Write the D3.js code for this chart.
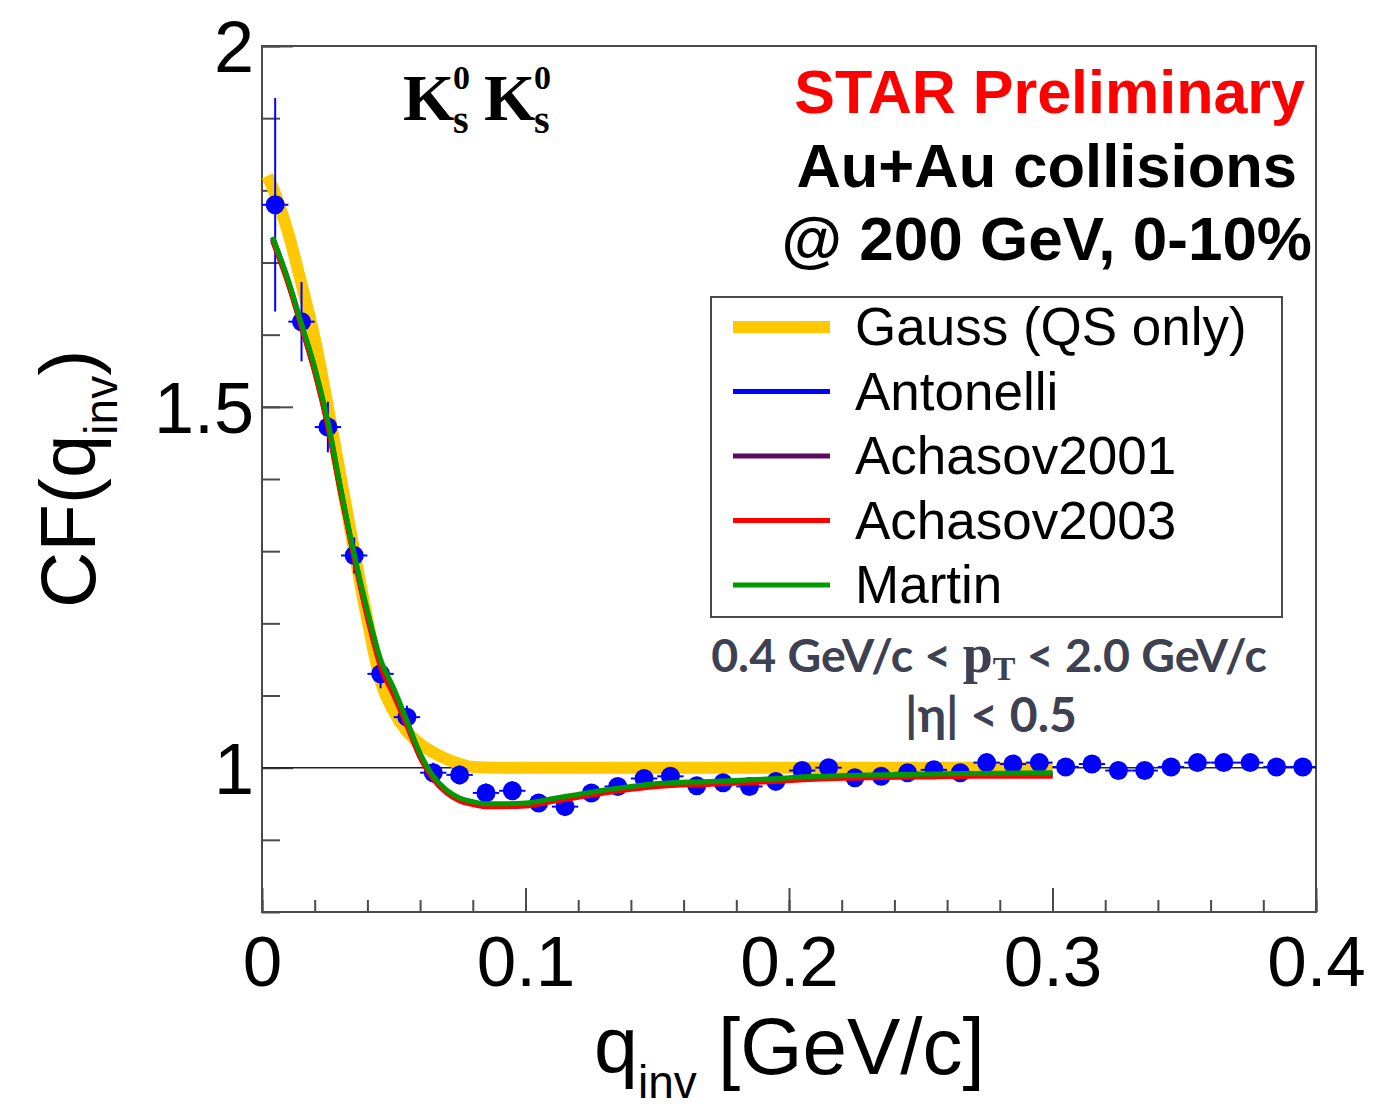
<!DOCTYPE html>
<html>
<head>
<meta charset="utf-8">
<script src="https://cdn.jsdelivr.net/npm/d3@7"></script>
<style>
  html, body { margin: 0; padding: 0; background: #fff; }
  svg { display: block; font-family: "Liberation Sans", Arial, Helvetica, sans-serif; }
</style>
</head>
<body>
<svg id="chart" width="1379" height="1112"></svg>
<script>
// ---------------- data ----------------
const qBins = [0.005,0.015,0.025,0.035,0.045,0.055,0.065,0.075,0.085,0.095,
               0.105,0.115,0.125,0.135,0.145,0.155,0.165,0.175,0.185,0.195,
               0.205,0.215,0.225,0.235,0.245,0.255,0.265,0.275,0.285,0.295,
               0.305,0.315,0.325,0.335,0.345,0.355,0.365,0.375,0.385,0.395];
const cfData = [1.780,1.618,1.472,1.294,1.130,1.070,0.993,0.990,0.965,0.968,
                0.951,0.946,0.965,0.974,0.985,0.988,0.975,0.979,0.974,0.981,
                0.996,1.000,0.986,0.988,0.993,0.997,0.993,1.007,1.005,1.007,
                1.001,1.005,0.996,0.996,1.001,1.007,1.007,1.007,1.001,1.001];
const cfErr  = [0.148,0.055,0.035,0.025,0.020,0.016,0.014,0.013,0.013,0.013,
                0.012,0.012,0.012,0.012,0.012,0.012,0.012,0.012,0.012,0.012,
                0.012,0.012,0.012,0.012,0.012,0.012,0.012,0.012,0.012,0.012,
                0.012,0.012,0.012,0.012,0.012,0.012,0.012,0.012,0.012,0.012];
const qBinHalf = 0.005;

const qGauss  = [0.002,0.005,0.010,0.015,0.020,0.025,0.030,0.035,0.040,0.045,0.050,0.055,0.060,0.065,0.070,0.075,0.080,0.090,0.100,0.150,0.200,0.250,0.300];
const cfGauss = [1.820,1.795,1.740,1.670,1.595,1.500,1.400,1.300,1.205,1.120,1.078,1.050,1.033,1.021,1.012,1.005,1.001,1.000,1.000,1.000,1.000,1.000,1.000];

const qFit = [0.004,0.010,0.015,0.020,0.025,0.030,0.035,0.040,0.045,0.050,0.055,0.060,0.065,0.070,0.075,0.080,0.085,0.090,0.100,0.110,0.120,0.130,0.140,0.150,0.170,0.190,0.210,0.230,0.250,0.270,0.300];
const cfAntonelli   = [1.735,1.674,1.614,1.553,1.478,1.383,1.294,1.214,1.147,1.108,1.063,1.018,0.987,0.967,0.956,0.951,0.948,0.948,0.949,0.955,0.961,0.967,0.972,0.976,0.979,0.982,0.986,0.988,0.989,0.990,0.991];
const cfAchasov2001 = [1.732,1.671,1.611,1.549,1.474,1.379,1.291,1.210,1.142,1.103,1.060,1.016,0.985,0.966,0.955,0.950,0.947,0.947,0.948,0.954,0.960,0.966,0.971,0.975,0.978,0.981,0.985,0.987,0.988,0.989,0.989];
const cfAchasov2003 = [1.730,1.670,1.610,1.548,1.472,1.378,1.290,1.208,1.140,1.100,1.058,1.014,0.984,0.965,0.954,0.949,0.946,0.946,0.947,0.953,0.959,0.965,0.970,0.974,0.977,0.980,0.984,0.986,0.987,0.988,0.988];
const cfMartin      = [1.735,1.675,1.615,1.555,1.480,1.385,1.296,1.218,1.150,1.110,1.065,1.020,0.988,0.969,0.958,0.953,0.950,0.950,0.951,0.957,0.963,0.969,0.974,0.978,0.981,0.984,0.988,0.990,0.991,0.992,0.993];

const legendLabels = ["Gauss (QS only)","Antonelli","Achasov2001","Achasov2003","Martin"];
const xTickLabels = ["0","0.1","0.2","0.3","0.4"];
const yTickLabels = ["1","1.5","2"];

// ---------------- setup ----------------
const svg = d3.select("#chart");
const L = 262, R = 1316, T = 46, B = 912;
const x = d3.scaleLinear().domain([0, 0.4]).range([L, R]);
const y = d3.scaleLinear().domain([0.8, 2.0]).range([B, T]);
const sans = "'Liberation Sans', Arial, sans-serif";
const serif = "'Liberation Serif', 'DejaVu Serif', serif";
const humanist = "Lato, 'Open Sans', sans-serif";

const colors = {
  gauss: "#ffc800", antonelli: "#0000ff", a2001: "#5c0a5c",
  a2003: "#ff0000", martin: "#009a00"
};

// frame
svg.append("rect").attr("x", L).attr("y", T).attr("width", R - L).attr("height", B - T)
  .attr("fill", "none").attr("stroke", "#4a4a4a").attr("stroke-width", 2);

// x ticks (inward)
const xMinor = d3.range(0, 21).map(i => i * 0.02);
svg.append("g").attr("transform", `translate(0,${B})`)
  .call(d3.axisBottom(x).tickValues(xMinor).tickSize(-12).tickFormat(""))
  .call(g => g.select(".domain").remove())
  .call(g => g.selectAll("line").attr("stroke", "#4a4a4a").attr("stroke-width", 2));
const gx = svg.append("g").attr("transform", `translate(0,${B})`)
  .call(d3.axisBottom(x).tickValues([0, 0.1, 0.2, 0.3, 0.4]).tickSize(-24)
    .tickPadding(0).tickFormat((d, i) => xTickLabels[i]));
gx.select(".domain").remove();
gx.selectAll("line").attr("stroke", "#4a4a4a").attr("stroke-width", 2);
gx.selectAll("text").attr("font-size", 71).attr("fill", "#000")
  .attr("font-family", sans).attr("y", 74).attr("dy", 0);

// y ticks
const yMinor = d3.range(0, 13).map(i => 0.8 + i * 0.1);
svg.append("g").attr("transform", `translate(${L},0)`)
  .call(d3.axisLeft(y).tickValues(yMinor).tickSize(-18).tickFormat(""))
  .call(g => g.select(".domain").remove())
  .call(g => g.selectAll("line").attr("stroke", "#4a4a4a").attr("stroke-width", 2));
const gy = svg.append("g").attr("transform", `translate(${L},0)`)
  .call(d3.axisLeft(y).tickValues([1, 1.5, 2]).tickSize(-31).tickPadding(0)
    .tickFormat((d, i) => yTickLabels[i]));
gy.select(".domain").remove();
gy.selectAll("line").attr("stroke", "#4a4a4a").attr("stroke-width", 2);
gy.selectAll("text").attr("font-size", 72).attr("fill", "#000")
  .attr("font-family", sans).attr("x", -8).attr("dy", "0.36em");

// reference line at CF = 1
svg.append("line").attr("x1", L).attr("x2", R).attr("y1", y(1)).attr("y2", y(1))
  .attr("stroke", "#222").attr("stroke-width", 1.5);

// curves
const line = d3.line().x(d => x(d[0])).y(d => y(d[1])).curve(d3.curveMonotoneX);
const zip = (a, b) => a.map((v, i) => [v, b[i]]);

svg.append("path").datum(zip(qGauss, cfGauss)).attr("d", line)
  .attr("fill", "none").attr("stroke", colors.gauss).attr("stroke-width", 12)
  .attr("stroke-linejoin", "round");

// data points with error bars
const pts = svg.append("g");
qBins.forEach((q, i) => {
  const cx = x(q), cy = y(cfData[i]);
  pts.append("line").attr("x1", cx).attr("x2", cx)
    .attr("y1", y(cfData[i] + cfErr[i])).attr("y2", y(cfData[i] - cfErr[i]))
    .attr("stroke", "#0000ff").attr("stroke-width", 2);
  pts.append("line").attr("x1", x(q - qBinHalf)).attr("x2", x(q + qBinHalf))
    .attr("y1", cy).attr("y2", cy)
    .attr("stroke", "#0000ff").attr("stroke-width", 2);
  pts.append("circle").attr("cx", cx).attr("cy", cy).attr("r", 9.5).attr("fill", "#0000ff");
});

[[cfAntonelli, colors.antonelli], [cfAchasov2001, colors.a2001],
 [cfAchasov2003, colors.a2003], [cfMartin, colors.martin]].forEach(([vals, c]) => {
  svg.append("path").datum(zip(qFit, vals)).attr("d", line)
    .attr("fill", "none").attr("stroke", c).attr("stroke-width", 5)
    .attr("stroke-linejoin", "round");
});

// ---------------- legend ----------------
const leg = svg.append("g");
leg.append("rect").attr("x", 711).attr("y", 297).attr("width", 571).attr("height", 320)
  .attr("fill", "#fff").attr("stroke", "#4a4a4a").attr("stroke-width", 2);
const legColors = [colors.gauss, colors.antonelli, colors.a2001, colors.a2003, colors.martin];
const legWidths = [12, 5, 5, 5, 5];
legendLabels.forEach((lab, i) => {
  const yy = 327 + i * 64.5;
  leg.append("line").attr("x1", 733).attr("x2", 830).attr("y1", yy).attr("y2", yy)
    .attr("stroke", legColors[i]).attr("stroke-width", legWidths[i]);
  leg.append("text").attr("x", 855).attr("y", yy + 18).attr("font-size", 53)
    .attr("font-family", sans).attr("fill", "#000").text(lab);
});

// ---------------- annotations ----------------
svg.append("text").attr("x", 1305).attr("y", 113).attr("text-anchor", "end")
  .attr("font-family", sans).attr("font-size", 61).attr("font-weight", "bold")
  .attr("fill", "#ff0000").text("STAR Preliminary");
svg.append("text").attr("x", 1297).attr("y", 187).attr("text-anchor", "end")
  .attr("font-family", sans).attr("font-size", 61.5).attr("font-weight", "bold")
  .attr("fill", "#000").text("Au+Au collisions");
svg.append("text").attr("x", 1312).attr("y", 260).attr("text-anchor", "end")
  .attr("font-family", sans).attr("font-size", 62).attr("font-weight", "bold")
  .attr("fill", "#000").text("@ 200 GeV, 0-10%");

// K0s K0s
[403, 484].forEach(kx => {
  svg.append("text").attr("x", kx).attr("y", 120).attr("font-family", serif)
    .attr("font-weight", "bold").attr("font-size", 66).attr("fill", "#000").text("K");
  svg.append("text").attr("x", kx + 50).attr("y", 89).attr("font-family", serif)
    .attr("font-weight", "bold").attr("font-size", 34).attr("fill", "#000").text("0");
  svg.append("text").attr("x", kx + 50).attr("y", 133).attr("font-family", serif)
    .attr("font-weight", "bold").attr("font-size", 40).attr("fill", "#000").text("s");
});

// kinematic cuts
const cutColor = "#3d4152";
const cut = svg.append("text").attr("x", 989).attr("y", 672).attr("text-anchor", "middle")
  .attr("font-family", humanist).attr("font-weight", "bold")
  .attr("font-size", 46.5).attr("fill", cutColor);
cut.append("tspan").text("0.4 GeV/c < ");
cut.append("tspan").attr("font-family", serif).attr("font-size", 54).text("p");
cut.append("tspan").attr("font-family", serif).attr("font-size", 34).attr("dy", 8).text("T");
cut.append("tspan").attr("dy", -8).text(" < 2.0 GeV/c");
svg.append("text").attr("x", 991).attr("y", 732).attr("text-anchor", "middle")
  .attr("font-family", humanist).attr("font-weight", "bold")
  .attr("font-size", 48).attr("fill", cutColor).text("|η| < 0.5");

// axis titles
const yt = svg.append("text").attr("transform", "translate(95,608) rotate(-90)")
  .attr("font-family", sans).attr("font-size", 78).attr("fill", "#000");
yt.append("tspan").text("CF(q");
yt.append("tspan").attr("font-size", 46).attr("dy", 22).text("inv");
yt.append("tspan").attr("dy", -22).text(")");

const xt = svg.append("text").attr("x", 594).attr("y", 1072)
  .attr("font-family", sans).attr("font-size", 79).attr("fill", "#000");
xt.append("tspan").text("q");
xt.append("tspan").attr("font-size", 46).attr("dy", 26).text("inv");
svg.append("text").attr("x", 718).attr("y", 1074).attr("font-family", sans)
  .attr("font-size", 80).attr("fill", "#000").text("[GeV/c]");
</script>
</body>
</html>
